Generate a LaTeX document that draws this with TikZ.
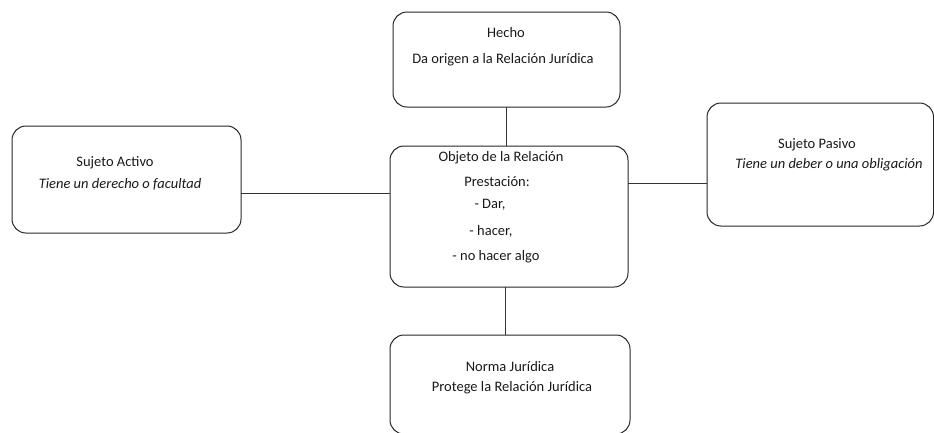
\documentclass[tikz,border=0pt]{standalone}
\usepackage{fontspec}
\setmainfont{Carlito}
\usetikzlibrary{calc}
\begin{document}
\begin{tikzpicture}[x=1pt,y=-1pt,
  box/.style={draw=black!85, line width=1pt, rounded corners=14pt, inner sep=0pt, outer sep=0pt},
  txt/.style={inner sep=0pt, text=black!90, font=\fontsize{14.5}{17}\selectfont},
  conn/.style={draw=black!80, line width=1pt}]
\useasboundingbox (0,0) rectangle (934,432);
% boxes
\node[box, minimum width=227pt, minimum height=95pt] (hecho) at (506.5,59.5) {};
\node[box, minimum width=229pt, minimum height=107pt] (activo) at (126.5,179.5) {};
\node[box, minimum width=238pt, minimum height=141pt] (obj) at (509,216.5) {};
\node[box, minimum width=226.5pt, minimum height=123pt] (pasivo) at (820.25,164.5) {};
\node[box, minimum width=240pt, minimum height=99pt] (norma) at (510,384.5) {};
% texts
\node[txt] (h1) at (506,33) {Hecho};
\node[txt] (h2) at (503,60) {Da origen a la Relación Jurídica};
\node[txt] (a1) at (115,163) {Sujeto Activo};
\node[txt] (a2) at (120,184) {\itshape Tiene un derecho o facultad};
\node[txt] (o1) at (501,158) {Objeto de la Relación};
\node[txt] (o2) at (497,182) {Prestación:};
\node[txt] (o3) at (490,205) {- Dar,};
\node[txt] (o4) at (491,231) {- hacer,};
\node[txt] (o5) at (496,257) {- no hacer algo};
\node[txt] (p1) at (817,145) {Sujeto Pasivo};
\node[txt] (p2) at (829,165) {\itshape Tiene un deber o una obligación};
\node[txt] (n1) at (510,367) {Norma Jurídica};
\node[txt] (n2) at (512,388) {Protege la Relación Jurídica};
% connectors
\draw[conn] (hecho.south) -- (hecho.south |- obj.north);
\draw[conn] ($(activo.east)+(0,13.5)$) coordinate (la) -- (la -| obj.west);
\draw[conn] ($(obj.east)+(0,-33.5)$) coordinate (ra) -- (ra -| pasivo.west);
\draw[conn] ($(obj.south)+(-4,0)$) coordinate (ba) -- (ba |- norma.north);
\end{tikzpicture}
\end{document}
